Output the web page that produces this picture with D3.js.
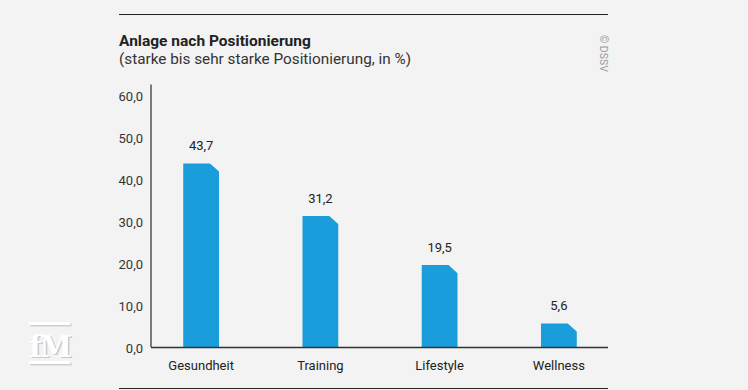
<!DOCTYPE html>
<html>
<head>
<meta charset="utf-8">
<script src="https://cdn.jsdelivr.net/npm/d3@7"></script>
<style>
  html, body { margin: 0; padding: 0; background: #f3f3f3; }
  svg { display: block; font-family: Roboto, "Liberation Sans", sans-serif; }
</style>
</head>
<body>
<div id="container"></div>
<script>
const WIDTH = 748;
const HEIGHT = 390;

var categories = ["Gesundheit", "Training", "Lifestyle", "Wellness"];
var values = [43.7, 31.2, 19.5, 5.6];
var tickValues = [0, 10, 20, 30, 40, 50, 60];

var titleText = "Anlage nach Positionierung";
var subtitleText = "(starke bis sehr starke Positionierung, in %)";
var sourceText = "© DSSV";

var fmt = function (v) { return d3.format(".1f")(v).replace(".", ","); };

var x = d3.scaleBand()
    .domain(categories)
    .range([141.5, 618.5])
    .paddingInner(0.7)
    .paddingOuter(0.35);

var y = d3.scaleLinear()
    .domain([0, 60])
    .range([347, 95]);

var svg = d3.select("#container").append("svg")
    .attr("width", WIDTH)
    .attr("height", HEIGHT);

svg.append("rect").attr("width", WIDTH).attr("height", HEIGHT).attr("fill", "#f3f3f3");

// top and bottom rules
svg.append("line").attr("x1", 119).attr("x2", 608).attr("y1", 14.5).attr("y2", 14.5)
    .attr("stroke", "#222").attr("stroke-width", 1.2);
svg.append("line").attr("x1", 119).attr("x2", 608).attr("y1", 388.5).attr("y2", 388.5)
    .attr("stroke", "#222").attr("stroke-width", 1.2);

// titles
svg.append("text").attr("x", 119).attr("y", 46)
    .attr("font-size", 15.5).attr("font-weight", 700).attr("fill", "#222")
    .text(titleText);
svg.append("text").attr("x", 119).attr("y", 64)
    .attr("font-size", 15.3).attr("fill", "#333")
    .text(subtitleText);

svg.append("text")
    .attr("transform", "translate(600,35) rotate(90)")
    .attr("font-size", 10.5).attr("fill", "#9a9a9a")
    .text(sourceText);

// y axis
var yAxis = d3.axisLeft(y).tickValues(tickValues).tickSize(0).tickPadding(8).tickFormat(fmt);
var gy = svg.append("g").attr("transform", "translate(151,0)").call(yAxis);
gy.select(".domain").remove();
gy.selectAll("text").attr("font-size", 13).attr("fill", "#333")
    .attr("font-family", "Roboto, sans-serif").attr("dy", "0.45em");
svg.append("line").attr("x1", 151).attr("x2", 151).attr("y1", y(0)).attr("y2", y(62.5))
    .attr("stroke", "#7a7a7a").attr("stroke-width", 2);

// bars with a chamfered top-right corner
var cut = 9;
svg.selectAll(".bar").data(values).enter().append("path")
    .attr("class", "bar")
    .attr("fill", "#1a9edb")
    .attr("d", function (d, i) {
        var x0 = x(categories[i]), x1 = x0 + x.bandwidth();
        var top = y(d), base = y(0);
        var c = Math.min(cut, base - top);
        return "M" + x0 + "," + base + "L" + x0 + "," + top + "L" + (x1 - c) + "," + top +
            "L" + x1 + "," + (top + c * 0.9) + "L" + x1 + "," + base + "Z";
    });

// baseline
svg.append("line").attr("x1", 151).attr("x2", 608).attr("y1", y(0) + 0.5).attr("y2", y(0) + 0.5)
    .attr("stroke", "#333").attr("stroke-width", 1.5);

// value labels
svg.selectAll(".val").data(values).enter().append("text")
    .attr("class", "val")
    .attr("x", function (d, i) { return x(categories[i]) + x.bandwidth() / 2; })
    .attr("y", function (d) { return y(d) - 13; })
    .attr("text-anchor", "middle").attr("font-size", 13).attr("fill", "#222")
    .text(fmt);

// category labels
var xAxis = d3.axisBottom(x).tickSize(0).tickPadding(14);
var gx = svg.append("g").attr("transform", "translate(0," + y(0) + ")").call(xAxis);
gx.select(".domain").remove();
gx.selectAll("text").attr("font-size", 13).attr("fill", "#222")
    .attr("font-family", "Roboto, sans-serif");

// fM logo
var logo = svg.append("g").attr("transform", "translate(29,320)");
logo.append("rect").attr("x", 1.5).attr("y", 3.5).attr("width", 41).attr("height", 3).attr("fill", "#cfcfcf");
logo.append("rect").attr("x", 1.5).attr("y", 42.5).attr("width", 41).attr("height", 3).attr("fill", "#cfcfcf");
logo.append("rect").attr("x", 0).attr("y", 2).attr("width", 41).attr("height", 3).attr("fill", "#fff");
logo.append("rect").attr("x", 0).attr("y", 41).attr("width", 41).attr("height", 3).attr("fill", "#fff");
logo.append("text").attr("x", 22).attr("y", 38).attr("text-anchor", "middle")
    .attr("font-family", "DejaVu Serif, serif").attr("font-weight", 700).attr("font-size", 29)
    .attr("letter-spacing", -2).attr("fill", "#c8c8c8").text("fM");
logo.append("text").attr("x", 20.5).attr("y", 36.5).attr("text-anchor", "middle")
    .attr("font-family", "DejaVu Serif, serif").attr("font-weight", 700).attr("font-size", 29)
    .attr("letter-spacing", -2).attr("fill", "#fff").text("fM");
</script>
</body>
</html>
